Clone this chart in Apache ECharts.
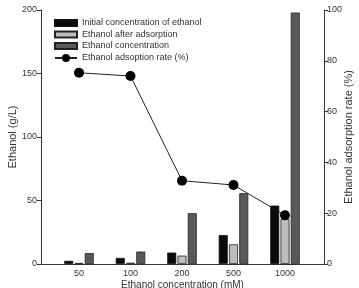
<!DOCTYPE html>
<html>
<head>
<meta charset="utf-8">
<script src="https://cdn.jsdelivr.net/npm/echarts@6/dist/echarts.min.js"></script>
<style>
  html, body { margin: 0; padding: 0; background: #fff; }
  #chart { width: 359px; height: 288px; }
</style>
</head>
<body>
<div id="chart"></div>
<script>
(function(){
    var categories = ['50', '100', '200', '500', '1000'];
    var initialConc = [2.5, 4.8, 9, 22.8, 46];
    var afterAdsorption = [0.8, 1, 6.6, 15.5, 35.5];
    var ethanolConc = [8.6, 9.8, 40, 55.7, 198];
    var adsorptionRate = [75.3, 74, 32.8, 31.1, 19.2];

    var font = 'Liberation Sans';
    var axisColor = '#333';

    var myChart = echarts.init(document.getElementById('chart'));
    var option = {
      animation: false,
      textStyle: { fontFamily: font },
      grid: [
        // frame grid (axes box)
        { left: 41, right: 35, top: 10, bottom: 24, outerBoundsMode: 'none', containLabel: false },
        // data grid, narrower so categories sit like the original
        { left: 53.25, right: 48.25, top: 10, bottom: 24, outerBoundsMode: 'none', containLabel: false }
      ],
      legend: [
        {
          orient: 'vertical',
          left: 49,
          top: 13,
          itemWidth: 22,
          itemHeight: 6,
          itemGap: 1.5,
          icon: 'rect',
          textStyle: { fontSize: 9, lineHeight: 10, color: axisColor, fontFamily: font },
          data: ['Initial concentration of ethanol', 'Ethanol after adsorption', 'Ethanol concentration']
        },
        {
          orient: 'vertical',
          left: 49,
          top: 48,
          itemWidth: 22,
          itemHeight: 10,
          textStyle: { fontSize: 9, lineHeight: 10, color: axisColor, fontFamily: font },
          data: ['Ethanol adsoption rate (%)']
        }
      ],
      xAxis: [
        {
          type: 'category', gridIndex: 0, data: categories,
          axisLine: { lineStyle: { color: axisColor, width: 1 } },
          axisTick: { show: false },
          axisLabel: { show: false },
          name: 'Ethanol concentration (mM)',
          nameLocation: 'middle',
          nameGap: 16,
          nameMoveOverlap: false,
          nameTextStyle: { fontSize: 10, color: axisColor }
        },
        {
          type: 'category', gridIndex: 1, data: categories,
          axisLine: { show: false },
          axisTick: { show: false },
          axisLabel: { fontSize: 9, color: axisColor, margin: 5 }
        },
        {
          type: 'category', gridIndex: 0, position: 'top', data: categories,
          axisLine: { lineStyle: { color: axisColor, width: 1 } },
          axisTick: { show: false },
          axisLabel: { show: false }
        }
      ],
      yAxis: [
        {
          type: 'value', gridIndex: 0, position: 'left',
          min: 0, max: 200, interval: 50,
          axisLine: { show: true, lineStyle: { color: axisColor } },
          axisTick: { show: true, length: 4, lineStyle: { color: axisColor } },
          axisLabel: { fontSize: 9, color: axisColor, margin: 4 },
          splitLine: { show: false },
          name: 'Ethanol (g/L)',
          nameLocation: 'middle',
          nameGap: 23,
          nameMoveOverlap: false,
          nameTextStyle: { fontSize: 11, color: axisColor }
        },
        {
          type: 'value', gridIndex: 0, position: 'right',
          min: 0, max: 100, interval: 20,
          axisLine: { show: true, lineStyle: { color: axisColor } },
          axisTick: { show: true, length: 4, lineStyle: { color: axisColor } },
          axisLabel: { fontSize: 9, color: axisColor, margin: 3 },
          splitLine: { show: false },
          name: 'Ethanol adsorption rate (%)',
          nameLocation: 'middle',
          nameGap: 19,
          nameMoveOverlap: false,
          nameTextStyle: { fontSize: 11, color: axisColor }
        },
        {
          type: 'value', gridIndex: 1, min: 0, max: 200, show: false, splitLine: { show: false }
        },
        {
          type: 'value', gridIndex: 1, min: 0, max: 100, show: false, splitLine: { show: false }
        }
      ],
      series: [
        {
          name: 'Initial concentration of ethanol', type: 'bar',
          xAxisIndex: 1, yAxisIndex: 2,
          data: initialConc, barWidth: 9, barGap: '14%',
          itemStyle: { color: '#0a0a0a', borderColor: '#111', borderWidth: 0.8 }
        },
        {
          name: 'Ethanol after adsorption', type: 'bar',
          xAxisIndex: 1, yAxisIndex: 2,
          data: afterAdsorption, barWidth: 9, barGap: '14%',
          itemStyle: { color: '#bdbdbd', borderColor: '#222', borderWidth: 0.8 }
        },
        {
          name: 'Ethanol concentration', type: 'bar',
          xAxisIndex: 1, yAxisIndex: 2,
          data: ethanolConc, barWidth: 9, barGap: '14%',
          itemStyle: { color: '#595959', borderColor: '#222', borderWidth: 0.8 }
        },
        {
          name: 'Ethanol adsoption rate (%)', type: 'line',
          xAxisIndex: 1, yAxisIndex: 3,
          data: adsorptionRate,
          symbol: 'circle', symbolSize: 10,
          lineStyle: { color: '#222', width: 1 },
          itemStyle: { color: '#000' },
          z: 5
        }
      ]
    };
    myChart.setOption(option);
})();
</script>
</body>
</html>
